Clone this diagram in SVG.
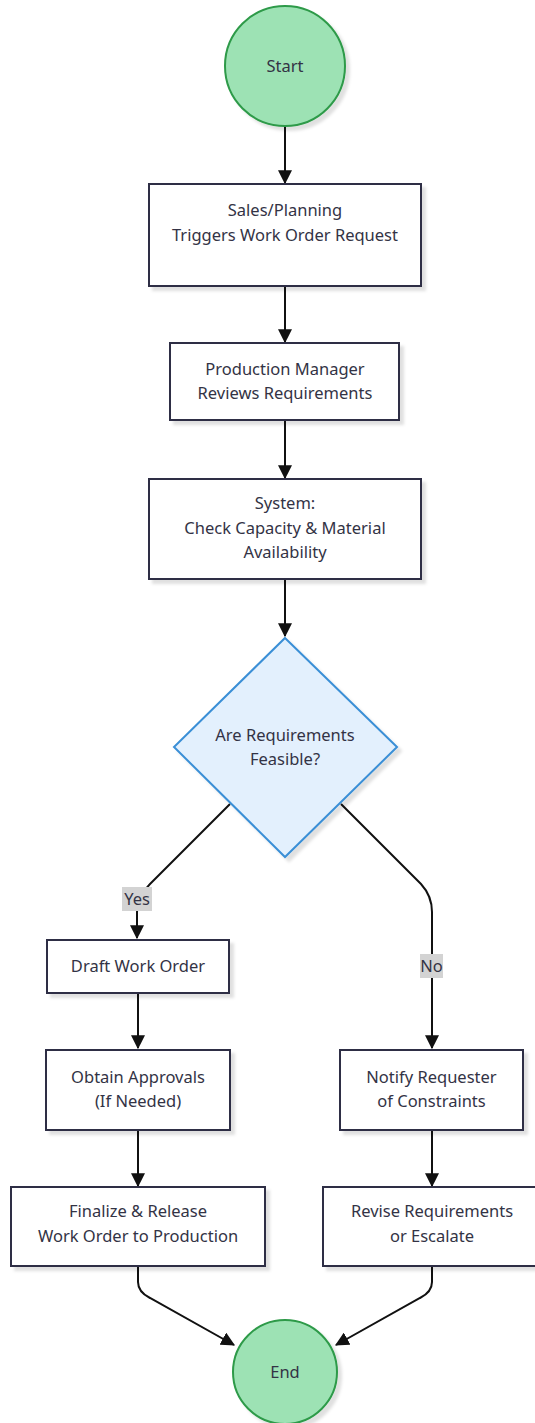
<svg xmlns="http://www.w3.org/2000/svg" width="535" height="1423" viewBox="0 0 535 1423">
  <style>
    .lbl { font-family: "Noto Sans", "Open Sans", sans-serif; font-size: 16.5px; fill: #333345; text-anchor: middle; }
    .box { fill: #ffffff; stroke: #2f2f45; stroke-width: 2; filter: url(#shadow); }
    .term { fill: #9de2b4; stroke: #2d9a48; stroke-width: 2; filter: url(#shadow); }
    .dec { fill: #e3f0fd; stroke: #3a8fd6; stroke-width: 2; filter: url(#shadow); }
    .edge { fill: none; stroke: #111111; stroke-width: 2; marker-end: url(#arrow); }
    .tag { fill: #d3d3d3; }
  </style>
  <defs>
    <filter id="shadow" x="-10%" y="-10%" width="130%" height="130%">
      <feDropShadow dx="4" dy="4" stdDeviation="1.5" flood-color="#000000" flood-opacity="0.12"/>
    </filter>
    <marker id="arrow" markerUnits="userSpaceOnUse" markerWidth="14" markerHeight="14" viewBox="0 0 12 12" refX="11" refY="6" orient="auto">
      <path d="M0,0 L12,6 L0,12 z" fill="#111111"/>
    </marker>
  </defs>

  <g id="connectors">
    <path class="edge" d="M285,126 L285,183"/>
    <path class="edge" d="M285,286 L285,342"/>
    <path class="edge" d="M285,420 L285,478"/>
    <path class="edge" d="M285,579 L285,636"/>
    <path class="edge" d="M230,804 L150,884 Q137,897 137,912 L137,938"/>
    <path class="edge" d="M341,804 L421,884 Q432,896 432,912 L432,1048"/>
    <path class="edge" d="M138,993 L138,1048"/>
    <path class="edge" d="M138,1130 L138,1186"/>
    <path class="edge" d="M432,1130 L432,1186"/>
    <path class="edge" d="M138,1266 L138,1282 Q138,1292 150,1298 L234,1345"/>
    <path class="edge" d="M432,1266 L432,1282 Q432,1292 420,1298 L336,1345"/>
    <rect class="tag" x="122" y="887" width="30" height="24"/>
    <text class="lbl" x="137" y="905">Yes</text>
    <rect class="tag" x="420" y="954" width="23" height="24"/>
    <text class="lbl" x="431.5" y="972">No</text>
  </g>

  <g id="start">
    <circle class="term" cx="285" cy="66" r="60"/>
    <text class="lbl" x="285" y="72">Start</text>
  </g>

  <g id="trigger">
    <rect class="box" x="149" y="184" width="272" height="102"/>
    <text class="lbl" x="285" y="216">Sales/Planning</text>
    <text class="lbl" x="285" y="241">Triggers Work Order Request</text>
  </g>

  <g id="review">
    <rect class="box" x="170" y="343" width="229" height="77"/>
    <text class="lbl" x="285" y="375">Production Manager</text>
    <text class="lbl" x="285" y="399">Reviews Requirements</text>
  </g>

  <g id="check">
    <rect class="box" x="149" y="479" width="272" height="100"/>
    <text class="lbl" x="285" y="509">System:</text>
    <text class="lbl" x="285" y="534">Check Capacity &amp; Material</text>
    <text class="lbl" x="285" y="558">Availability</text>
  </g>

  <g id="feasible">
    <polygon class="dec" points="285,638 397,747 285,857 174,747"/>
    <text class="lbl" x="285" y="741">Are Requirements</text>
    <text class="lbl" x="285" y="765">Feasible?</text>
  </g>

  <g id="draft">
    <rect class="box" x="47" y="940" width="182" height="53"/>
    <text class="lbl" x="138" y="972">Draft Work Order</text>
  </g>

  <g id="approvals">
    <rect class="box" x="46" y="1050" width="184" height="80"/>
    <text class="lbl" x="138" y="1083">Obtain Approvals</text>
    <text class="lbl" x="138" y="1107">(If Needed)</text>
  </g>

  <g id="release">
    <rect class="box" x="11" y="1187" width="254" height="79"/>
    <text class="lbl" x="138" y="1217">Finalize &amp; Release</text>
    <text class="lbl" x="138" y="1242">Work Order to Production</text>
  </g>

  <g id="notify">
    <rect class="box" x="340" y="1050" width="183" height="80"/>
    <text class="lbl" x="431.5" y="1083">Notify Requester</text>
    <text class="lbl" x="431.5" y="1107">of Constraints</text>
  </g>

  <g id="revise">
    <rect class="box" x="323" y="1187" width="218" height="79"/>
    <text class="lbl" x="432" y="1217">Revise Requirements</text>
    <text class="lbl" x="432" y="1242">or Escalate</text>
  </g>

  <g id="end">
    <circle class="term" cx="285" cy="1372" r="52"/>
    <text class="lbl" x="285" y="1378">End</text>
  </g>
</svg>
